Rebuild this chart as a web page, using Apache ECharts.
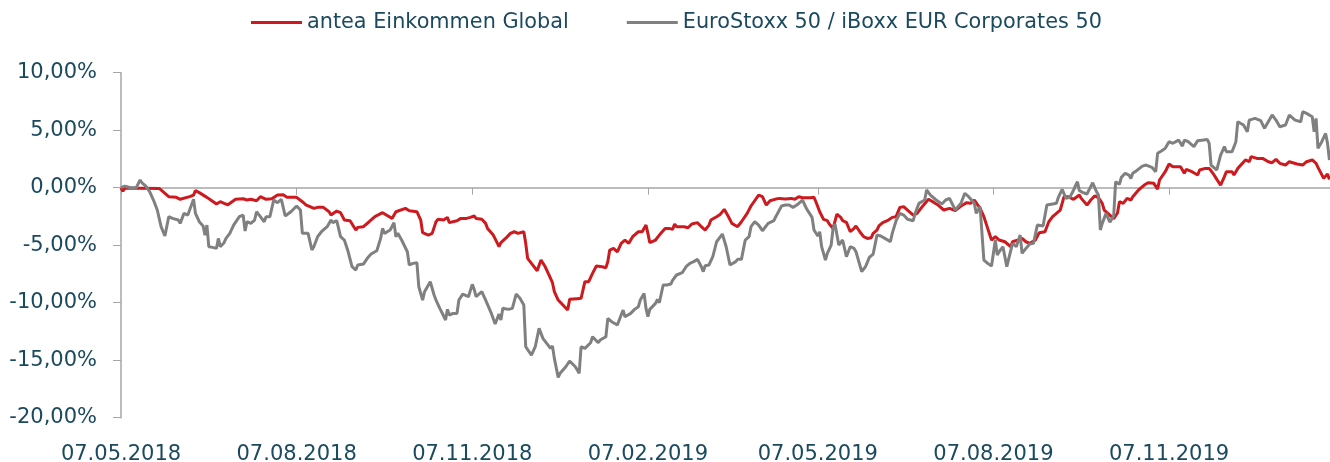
<!DOCTYPE html>
<html>
<head>
<meta charset="utf-8">
<script src="https://cdn.jsdelivr.net/npm/echarts@6/dist/echarts.min.js"></script>
<style>
html,body{margin:0;padding:0;background:#fff;}
#chart{width:1330px;height:462px;}
</style>
</head>
<body>
<div id="chart"></div>
<script>
// ---- data (days since 07.05.2018, performance in %) ----
const startLabel = '07.05.2018';
const endDay = 633.3;
const seriesNames = ['antea Einkommen Global', 'EuroStoxx 50 / iBoxx EUR Corporates 50'];
const tickLabels = ['07.05.2018','07.08.2018','07.11.2018','07.02.2019','07.05.2019','07.08.2019','07.11.2019'];
const yTicks = [-20, -15, -10, -5, 0, 5, 10];

const fundDays = [0,1,2,10,20,22,25,29,31,36,38,39,41,45,47,48,50,52,54,56,60,64,65,66,68,71,73,76,79,82,85,87,92,95,97,99,101,103,106,109,110,113,115,117,120,123,124,127,130,133,137,139,142,144,145,149,151,155,157,158,161,163,165,166,169,171,172,173,176,178,181,183,185,186,189,191,192,195,197,198,199,200,202,204,206,208,209,211,212,213,215,218,220,222,224,226,227,229,231,234,235,239,241,243,245,247,249,252,254,255,256,258,260,262,264,266,268,271,273,275,276,277,280,282,283,285,287,289,290,291,295,297,299,302,304,306,308,309,312,314,316,318,320,323,325,328,330,334,336,338,340,343,345,348,351,353,355,357,361,363,364,366,368,370,371,373,375,377,378,380,382,384,385,387,389,391,393,394,396,397,399,402,404,406,408,410,412,415,417,419,420,423,426,428,431,434,437,440,441,443,445,447,448,450,452,454,456,458,460,463,466,467,470,472,474,476,479,481,482,484,486,488,490,492,494,496,499,502,503,506,508,510,512,514,515,518,520,522,523,525,527,529,530,533,536,538,541,543,544,547,549,551,555,557,558,561,564,565,568,570,572,574,576,578,579,582,583,585,589,591,592,595,598,601,603,605,607,610,612,616,619,621,624,626,627,630,632,633];
const fundValues = [0,-0.30,-0.05,-0.05,-0.06,-0.35,-0.78,-0.84,-1.01,-0.78,-0.64,-0.26,-0.43,-0.84,-1.07,-1.22,-1.42,-1.22,-1.36,-1.48,-1.01,-0.96,-0.84,-1.07,-1.01,-1.13,-0.78,-1.01,-0.96,-0.64,-0.61,-0.84,-0.84,-1.22,-1.51,-1.65,-1.80,-1.71,-1.71,-2.09,-2.38,-2.03,-2.17,-2.81,-2.87,-3.68,-3.45,-3.39,-2.96,-2.52,-2.17,-2.38,-2.67,-2.09,-2.17,-1.80,-2.00,-2.09,-2.81,-3.91,-4.12,-3.97,-2.96,-2.75,-2.81,-2.58,-3.04,-2.87,-2.87,-2.67,-2.67,-2.58,-2.46,-2.67,-2.75,-3.10,-3.54,-4.12,-4.78,-5.13,-4.78,-4.90,-4.32,-3.97,-3.83,-3.97,-3.91,-3.83,-4.84,-6.14,-6.58,-7.22,-6.29,-6.81,-7.51,-8.26,-9.04,-9.77,-10.12,-10.64,-9.71,-9.65,-9.62,-8.17,-8.17,-7.45,-6.81,-6.87,-6.96,-6.43,-5.42,-5.28,-5.57,-4.84,-4.55,-4.84,-4.26,-3.83,-3.83,-3.25,-3.97,-4.78,-4.55,-4.12,-4.26,-3.54,-3.54,-3.62,-3.16,-3.39,-3.39,-3.48,-3.16,-3.04,-3.39,-3.68,-3.25,-2.81,-2.52,-2.30,-1.88,-2.46,-3.10,-3.39,-2.96,-2.23,-1.59,-0.64,-0.78,-1.51,-1.13,-0.99,-0.93,-0.99,-0.93,-1.01,-0.78,-0.87,-0.87,-0.84,-1.22,-2.09,-2.75,-2.87,-3.16,-3.54,-2.29,-2.58,-2.87,-3.01,-3.83,-3.54,-3.33,-3.83,-4.26,-4.41,-4.35,-3.97,-3.68,-3.33,-3.04,-2.81,-2.58,-2.52,-1.71,-1.65,-1.94,-2.38,-2.23,-1.80,-1.59,-1.01,-1.30,-1.51,-1.94,-1.80,-2.00,-1.59,-1.59,-1.30,-1.36,-1.07,-1.22,-1.80,-2.52,-3.54,-4.55,-4.26,-4.55,-4.70,-5.13,-4.70,-4.55,-4.41,-4.70,-4.84,-4.55,-3.91,-3.74,-3.83,-2.96,-2.52,-2.23,-1.94,-0.78,-0.78,-1.01,-0.64,-0.93,-1.51,-1.07,-0.72,-0.87,-1.36,-1.94,-2.38,-2.70,-2.20,-1.22,-1.36,-0.93,-1.07,-0.78,-0.20,0.23,0.43,0.38,-0.12,0.67,1.39,2.06,1.83,1.83,1.25,1.59,1.39,1.10,1.54,1.68,1.68,1.25,0.72,0.23,0.96,1.39,1.39,1.10,1.68,2.41,2.26,2.70,2.55,2.55,2.26,2.17,2.46,2.12,1.97,2.26,2.06,1.97,2.26,2.41,2.12,1.77,0.81,1.19,0.72];

const benchDays = [0,2,5,8,10,11,12,13,15,17,19,21,22,23,25,27,30,31,33,35,36,38,39,41,43,44,45,46,48,50,51,52,54,55,57,59,62,64,65,66,68,70,71,73,75,76,78,80,82,84,86,89,92,94,95,98,99,100,101,103,105,108,110,111,113,115,117,119,121,123,124,127,129,131,134,136,137,138,141,143,144,145,147,150,151,153,155,156,158,159,162,164,165,167,169,170,171,172,174,176,177,179,182,184,185,186,189,191,194,196,198,199,200,203,205,207,209,211,212,213,215,217,219,220,221,223,225,226,227,229,230,233,235,238,240,241,243,246,247,250,251,254,255,257,260,261,263,264,267,269,271,272,274,275,276,277,280,281,282,284,286,288,289,291,294,295,296,298,300,302,304,305,306,308,310,312,314,315,317,319,322,323,325,327,329,330,332,334,336,339,342,343,346,348,350,352,354,357,359,360,362,363,365,366,367,369,370,372,373,374,376,378,379,380,382,384,385,388,390,392,394,396,398,401,403,404,406,408,410,412,415,416,418,419,421,422,424,427,430,432,434,437,440,442,444,445,447,448,450,451,452,454,456,458,459,460,462,464,465,467,469,471,472,474,476,478,480,481,483,485,488,490,491,493,495,497,499,501,502,504,506,509,511,512,513,514,516,518,519,520,521,523,524,526,528,529,530,532,535,537,540,542,543,545,547,549,551,554,556,557,559,562,564,567,569,570,571,574,576,577,578,579,582,584,585,588,590,591,594,597,599,603,605,607,610,612,615,618,619,621,624,625,626,627,629,631,632,633];
const benchValues = [0,0.14,0,0,0.67,0.43,0.58,0.14,-0.35,-1.07,-1.94,-3.39,-3.54,-4.20,-2.52,-2.67,-2.81,-3.10,-2.23,-2.38,-2.23,-1.01,-2.23,-2.96,-3.33,-4.12,-3.25,-5.13,-5.19,-5.28,-4.41,-5.13,-4.78,-4.41,-3.97,-3.25,-2.52,-2.38,-3.77,-2.96,-3.10,-2.81,-2.09,-2.52,-2.96,-2.52,-2.52,-1.07,-1.30,-1.01,-2.46,-2.09,-1.59,-1.94,-3.97,-3.97,-4.12,-5.42,-5.13,-4.26,-3.83,-3.39,-2.81,-3.04,-2.87,-4.26,-4.55,-5.57,-6.87,-7.16,-6.72,-6.64,-6.14,-5.77,-5.48,-4.41,-3.54,-3.97,-3.68,-3.04,-4.26,-3.97,-4.55,-5.57,-6.72,-6.58,-6.52,-8.61,-9.77,-9.04,-8.17,-9.33,-9.77,-10.49,-11.16,-11.51,-10.58,-11.07,-10.93,-10.93,-9.77,-9.25,-9.48,-8.41,-8.84,-9.48,-9.04,-9.77,-10.93,-11.86,-10.99,-11.51,-10.49,-10.58,-10.49,-9.25,-9.62,-10.20,-13.83,-13.68,-14.55,-13.83,-12.23,-12.09,-13.10,-13.54,-13.97,-13.77,-14.84,-16.49,-16.14,-15.57,-15.07,-15.57,-16.14,-13.83,-13.97,-13.48,-12.96,-13.48,-13.25,-12.96,-11.36,-11.65,-11.94,-11.51,-10.64,-11.22,-10.93,-10.58,-10.35,-9.77,-9.19,-10.49,-11.22,-10.58,-10.06,-9.71,-10.00,-8.46,-8.46,-8.38,-8.03,-7.59,-7.39,-7.30,-6.87,-6.58,-6.43,-6.23,-6.87,-7.30,-6.78,-6.72,-6.00,-4.70,-4.26,-4.03,-5.13,-6.72,-6.43,-6.23,-6.23,-4.55,-4.26,-3.39,-2.96,-3.25,-3.74,-3.10,-2.87,-2.52,-1.59,-1.51,-1.51,-1.71,-1.51,-1.07,-1.80,-1.65,-2.58,-3.68,-4.20,-3.83,-5.13,-6.29,-5.71,-4.99,-3.54,-3.16,-4.99,-4.55,-4.41,-6.00,-5.13,-5.28,-5.57,-7.30,-6.87,-6.06,-5.77,-4.12,-4.20,-4.49,-4.70,-3.97,-2.87,-2.23,-2.38,-2.75,-2.87,-2.23,-1.36,-1.22,-1.07,-0.20,-0.64,-1.07,-1.42,-1.07,-0.93,-1.94,-1.36,-0.49,-0.78,-0.64,-1.36,-2.23,-1.65,-1.65,-6.29,-6.58,-6.81,-4.55,-5.86,-5.57,-5.13,-6.87,-7.01,-4.84,-5.13,-4.12,-5.71,-5.28,-4.90,-4.84,-3.25,-3.10,-3.33,-1.51,-1.42,-1.36,-0.84,-0.14,-0.93,-0.84,-0.20,0.52,-0.26,-0.43,-0.55,0.43,-0.35,-0.64,-3.68,-3.10,-2.23,-3.00,-3.10,-2.46,0.52,0.30,0.90,1.25,1.10,0.81,1.25,1.48,1.88,1.97,1.77,1.39,2.99,3.19,3.42,4.00,3.86,4.14,3.62,4.14,4.00,3.57,4.09,4.14,4.20,3.86,1.97,1.54,2.84,2.99,3.57,3.13,3.13,4.00,5.74,5.45,4.87,5.88,6.03,5.83,5.16,6.32,5.88,5.30,5.45,6.32,5.88,5.74,6.61,6.46,6.17,4.87,6.03,3.42,4.00,4.72,3.86,2.41];

// ---- build ----
const DAY = 86400000;
const parseLabel = s => { const p = s.split('.'); return Date.UTC(+p[2], +p[1] - 1, +p[0]); };
const t0 = parseLabel(startLabel);
const tickDays = tickLabels.map(s => Math.round((parseLabel(s) - t0) / DAY));
const pair = (days, vals) => days.map((d, i) => [d, vals[i]]);

const TXT = '#1b4a5f';
const AX = '#a6a6a6';
const FONT = 'DejaVu Sans';
const RED = '#cc1a1f';
const GREY = '#808080';

const chart = echarts.init(document.getElementById('chart'), null, {renderer: 'canvas'});
chart.setOption({
  animation: false,
  backgroundColor: '#ffffff',
  legend: {
    left: 251, top: 12, padding: 0,
    icon: 'rect',
    itemWidth: 51, itemHeight: 3, itemGap: 58,
    textStyle: {fontFamily: FONT, fontSize: 20.8, color: TXT},
    data: [
      {name: seriesNames[0], itemStyle: {color: RED}},
      {name: seriesNames[1], itemStyle: {color: GREY}}
    ]
  },
  grid: {left: 121, right: 0, top: 72.7, bottom: 44.3, containLabel: false, outerBoundsMode: 'none'},
  xAxis: [{
    type: 'value', min: 0, max: endDay,
    axisLine: {onZero: true, lineStyle: {color: AX, width: 1.5}},
    axisTick: {show: true, length: 7, inside: false, customValues: tickDays, lineStyle: {color: AX, width: 1}},
    axisLabel: {show: false},
    splitLine: {show: false}
  }, {
    type: 'value', min: 0, max: endDay, position: 'bottom',
    axisLine: {show: false, onZero: false},
    axisTick: {show: false},
    axisLabel: {
      show: true, margin: 26, customValues: tickDays,
      fontFamily: FONT, fontSize: 21, color: TXT,
      formatter: v => { const i = tickDays.indexOf(v); return i >= 0 ? tickLabels[i] : ''; }
    },
    splitLine: {show: false}
  }],
  yAxis: {
    type: 'value', min: yTicks[0], max: yTicks[yTicks.length - 1], interval: 5,
    axisLine: {show: true, lineStyle: {color: AX, width: 1.5}},
    axisTick: {show: true, length: 8, lineStyle: {color: AX}},
    axisLabel: {
      margin: 24, fontFamily: FONT, fontSize: 21, color: TXT,
      formatter: v => v.toFixed(2).replace('.', ',') + '%'
    },
    splitLine: {show: false}
  },
  series: [{
    name: seriesNames[0], type: 'line', xAxisIndex: 0, symbol: 'none',
    data: pair(fundDays, fundValues),
    lineStyle: {color: RED, width: 3}, itemStyle: {color: RED}
  }, {
    name: seriesNames[1], type: 'line', xAxisIndex: 0, symbol: 'none',
    data: pair(benchDays, benchValues),
    lineStyle: {color: GREY, width: 3}, itemStyle: {color: GREY}
  }]
});
</script>
</body>
</html>
